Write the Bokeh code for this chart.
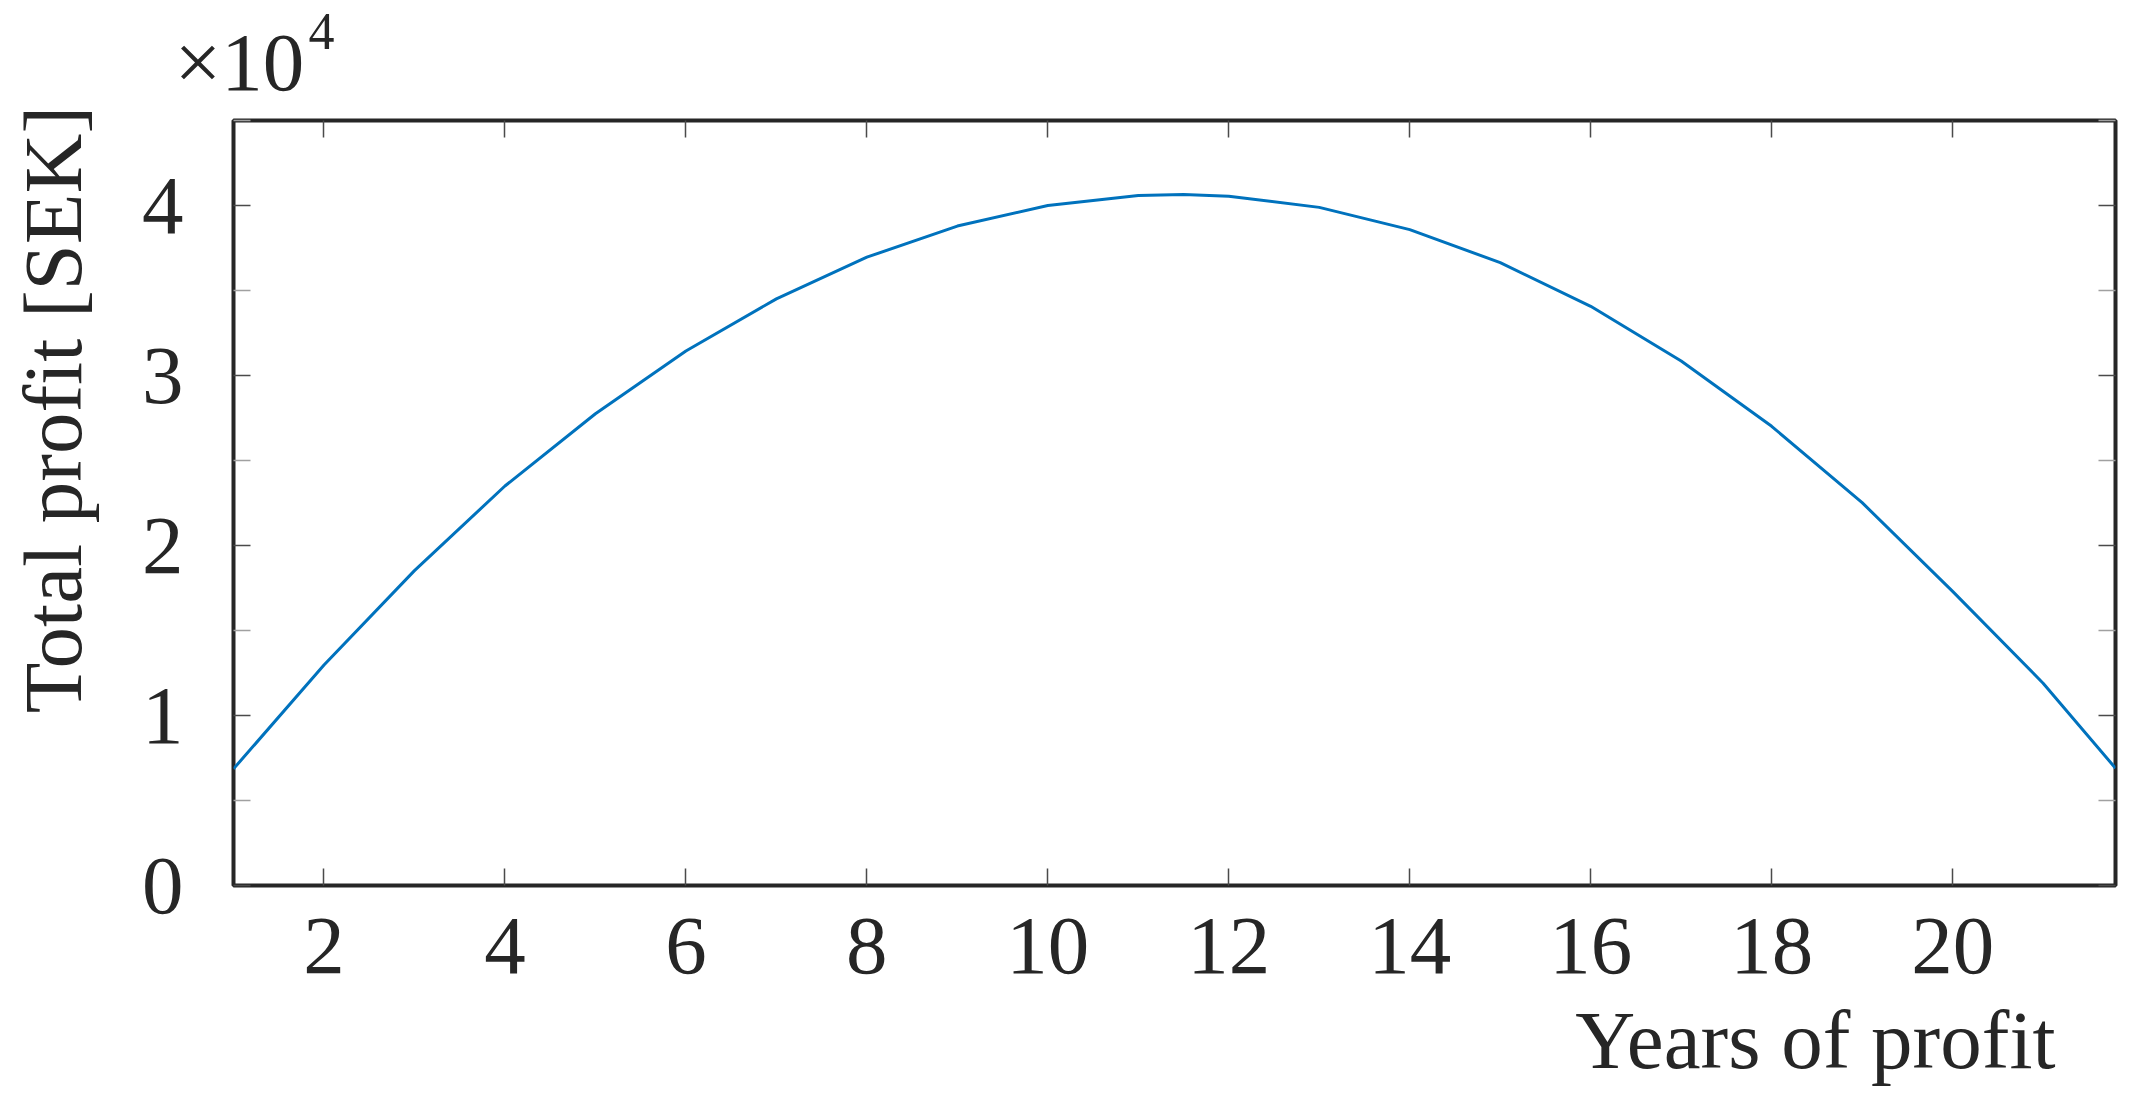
from bokeh.plotting import figure
from bokeh.models import (FixedTicker, CustomJSTickFormatter, LinearAxis, Range1d, Title)
from bokeh.embed import file_html
from bokeh.resources import INLINE

# ---- data ----
years = [1, 2, 3, 4, 5, 6, 7, 8, 9, 10, 11, 11.5, 12, 13, 14, 15, 16, 17, 18, 19, 20, 21, 21.8]
profit = [6860, 12970, 18520, 23500, 27750, 31440, 34510, 36960, 38790, 40000, 40590, 40650,
          40550, 39890, 38580, 36640, 34070, 30850, 27010, 22520, 17300, 11900, 6900]
x_ticks = [2, 4, 6, 8, 10, 12, 14, 16, 18, 20]
y_ticks = [0, 10000, 20000, 30000, 40000]
y_minor = [5000, 15000, 25000, 35000, 45000]
x_label = "Years of profit"
y_label = "Total profit [SEK]"
exp_base = "\u00d710"
exp_pow = "4"

W, H = 2134, 1105
FONT = "Liberation Serif"
FS = "83px"
TXT = "#262626"

p = figure(width=W, height=H, output_backend="svg", toolbar_location=None,
           x_range=Range1d(1, 21.8), y_range=Range1d(0, 45000),
           min_border_left=233, min_border_right=W - 2115, min_border_top=120,
           min_border_bottom=H - 885)
p.background_fill_color = "white"
p.border_fill_color = "white"
p.grid.visible = False
p.outline_line_color = "#262626"
p.outline_line_width = 4

p.line(years, profit, line_color="#0072BD", line_width=3)

def style(ax, ticks, minor, show_labels):
    ax.ticker = FixedTicker(ticks=ticks, minor_ticks=minor)
    ax.axis_line_color = None
    ax.major_tick_in = 17
    ax.major_tick_out = 0
    ax.minor_tick_in = 17
    ax.minor_tick_out = 0
    ax.major_tick_line_color = "#4a4a4a"
    ax.major_tick_line_width = 1.5
    ax.minor_tick_line_color = "#a0a0a0"
    ax.minor_tick_line_width = 1.5
    ax.major_label_text_font = FONT
    ax.major_label_text_font_size = FS
    ax.major_label_text_color = TXT
    if not show_labels:
        ax.formatter = CustomJSTickFormatter(code="return '';")
        ax.major_label_standoff = 0

xa = p.xaxis[0]
style(xa, x_ticks, [], True)
xa.major_label_standoff = 33
ya = p.yaxis[0]
style(ya, y_ticks, y_minor, True)
ya.formatter = CustomJSTickFormatter(code="return (tick / 10000).toFixed(0);")
ya.major_label_standoff = 50
# y label: the reference sets it above the frame's middle; leading no-break
# spaces shift the centred label upwards
ya.axis_label = "\u00a0" * 9 + y_label
ya.axis_label_standoff = 40
ya.axis_label_text_font = FONT
ya.axis_label_text_font_size = FS
ya.axis_label_text_font_style = "normal"
ya.axis_label_text_color = TXT

top = LinearAxis()
style(top, x_ticks, [], False)
p.add_layout(top, "above")
right = LinearAxis()
style(right, y_ticks, y_minor, False)
p.add_layout(right, "right")

def title(text, align, offset, standoff, size=FS):
    return Title(text=text, align=align, offset=offset, standoff=standoff,
                 text_font=FONT, text_font_size=size, text_font_style="normal",
                 text_color=TXT)

p.add_layout(title(x_label, "right", 60, 33), "below")
try:
    t_pow = title(exp_pow, "left", 75, -96, size="52px")
    p.add_layout(title(exp_base, "left", -59, 26), "above")
    p.add_layout(t_pow, "above")
except Exception:
    p.add_layout(title(exp_base + "\u2074", "left", -59, 26), "above")

open("out.html", "w").write(file_html(p, INLINE))
